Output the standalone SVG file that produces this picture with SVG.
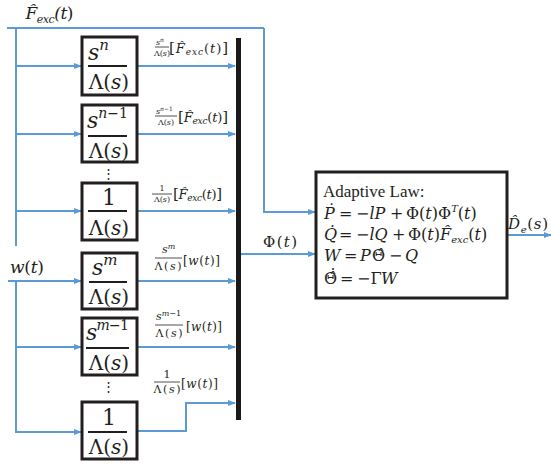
<svg xmlns="http://www.w3.org/2000/svg" width="551" height="465" viewBox="0 0 551 465">
<defs>
<marker id="ah" markerWidth="8" markerHeight="6" refX="7" refY="3" orient="auto" markerUnits="userSpaceOnUse">
<path d="M0,0 L8,3 L0,6 z" fill="#5B9BD5"/>
</marker>
<style>
.ln{fill:none;stroke:#5B9BD5;stroke-width:2}
.arr{fill:none;stroke:#5B9BD5;stroke-width:2;marker-end:url(#ah)}
.box{fill:#fff;stroke:#231f20;stroke-width:3}
.fb{stroke:#231f20;stroke-width:2}
.fs{stroke:#231f20;stroke-width:0.8}
text{fill:#231f20}
.m{font-family:"DejaVu Serif",serif;font-style:italic}
.r{font-family:"DejaVu Serif",serif;font-style:normal}
.t{font-family:"Liberation Serif",serif}
.num{font-size:22px}
.den{font-size:20px}
.law{font-size:16px}
</style>
</defs>
<g id="connectors">
<polyline class="ln" points="7,28 264,28"/>
<polyline class="arr" points="264,28 264,212 315,212"/>
<line class="ln" x1="16" y1="28" x2="16" y2="246"/>
<line class="arr" x1="16" y1="66" x2="81" y2="66"/>
<line class="arr" x1="16" y1="134" x2="81" y2="134"/>
<line class="arr" x1="16" y1="211" x2="81" y2="211"/>
<line class="arr" x1="8" y1="281" x2="81" y2="281"/>
<polyline class="arr" points="16,281 16,432 81,432"/>
<line class="arr" x1="16" y1="347" x2="81" y2="347"/>
<line class="arr" x1="137" y1="66" x2="235" y2="66"/>
<line class="arr" x1="137" y1="134" x2="235" y2="134"/>
<line class="arr" x1="137" y1="211" x2="235" y2="211"/>
<line class="arr" x1="137" y1="281" x2="235" y2="281"/>
<line class="arr" x1="137" y1="347" x2="235" y2="347"/>
<polyline class="arr" points="137,431 186,431 186,403 235,403"/>
<line class="arr" x1="241" y1="254" x2="315" y2="254"/>
<line class="arr" x1="507" y1="235" x2="551" y2="235"/>
</g>
<g id="bar"><rect x="236" y="38" width="5" height="382" fill="#1a1a1a"/></g>
<g id="labels">
<text class="m" x="25" y="19" font-size="17" textLength="48">F̂<tspan font-size="11" dy="4">exc</tspan><tspan dy="-4">(</tspan>t<tspan class="r">)</tspan></text>
<text class="m" x="10" y="273" font-size="17" textLength="34">w<tspan class="r">(</tspan>t<tspan class="r">)</tspan></text>
<text x="263" y="247" font-size="15" textLength="34"><tspan class="r">Φ(</tspan><tspan class="m">t</tspan><tspan class="r">)</tspan></text>
<text class="m" x="508" y="229" font-size="15" textLength="40">D̂<tspan font-size="10" dy="4">e</tspan><tspan class="r" dy="-4">(</tspan>s<tspan class="r">)</tspan></text>
</g>
<g id="box1">
<rect class="box" x="82" y="37" width="55" height="58"/>
<text class="m num" x="88" y="60">s<tspan font-size="15" dy="-10">n</tspan></text>
<line class="fb" x1="88" y1="66" x2="127" y2="66"/>
<text class="den" x="109" y="89" text-anchor="middle"><tspan class="r">Λ(</tspan><tspan class="m">s</tspan><tspan class="r">)</tspan></text>
</g>
<g id="box2">
<rect class="box" x="82" y="105" width="55" height="57"/>
<text class="m num" x="87" y="128">s<tspan font-size="14" dy="-10">n</tspan><tspan class="r" font-size="14">−1</tspan></text>
<line class="fb" x1="88" y1="136" x2="127" y2="136"/>
<text class="den" x="109" y="158" text-anchor="middle"><tspan class="r">Λ(</tspan><tspan class="m">s</tspan><tspan class="r">)</tspan></text>
</g>
<g id="dots1"><text class="r" x="108" y="178" font-size="13" text-anchor="middle">⋮</text></g>
<g id="box3">
<rect class="box" x="82" y="183" width="55" height="57"/>
<text class="r num" x="109" y="205" text-anchor="middle">1</text>
<line class="fb" x1="88" y1="211" x2="127" y2="211"/>
<text class="den" x="109" y="235" text-anchor="middle"><tspan class="r">Λ(</tspan><tspan class="m">s</tspan><tspan class="r">)</tspan></text>
</g>
<g id="box4">
<rect class="box" x="82" y="253" width="55" height="56"/>
<text class="m num" x="92" y="275">s<tspan font-size="15" dy="-10">m</tspan></text>
<line class="fb" x1="89" y1="282" x2="127" y2="282"/>
<text class="den" x="109" y="304" text-anchor="middle"><tspan class="r">Λ(</tspan><tspan class="m">s</tspan><tspan class="r">)</tspan></text>
</g>
<g id="box5">
<rect class="box" x="82" y="318" width="55" height="57"/>
<text class="m num" x="86" y="340" textLength="43">s<tspan font-size="14" dy="-10">m</tspan><tspan class="r" font-size="14">−1</tspan></text>
<line class="fb" x1="86" y1="348" x2="129" y2="348"/>
<text class="den" x="109" y="370" text-anchor="middle"><tspan class="r">Λ(</tspan><tspan class="m">s</tspan><tspan class="r">)</tspan></text>
</g>
<g id="dots2"><text class="r" x="108" y="391" font-size="13" text-anchor="middle">⋮</text></g>
<g id="box6">
<rect class="box" x="82" y="402" width="55" height="57"/>
<text class="r num" x="109" y="425" text-anchor="middle">1</text>
<line class="fb" x1="88" y1="432" x2="127" y2="432"/>
<text class="den" x="109" y="454" text-anchor="middle"><tspan class="r">Λ(</tspan><tspan class="m">s</tspan><tspan class="r">)</tspan></text>
</g>
<g id="arrowlabels">
<text class="m" x="156" y="45" font-size="8">s<tspan font-size="6" dy="-3">n</tspan></text>
<line class="fs" x1="155" y1="47" x2="169" y2="47"/>
<text x="162" y="56" font-size="8" text-anchor="middle"><tspan class="r">Λ(</tspan><tspan class="m">s</tspan><tspan class="r">)</tspan></text>
<text x="169" y="53" font-size="13" textLength="59"><tspan class="r" font-size="15">[</tspan><tspan class="m">F̂</tspan><tspan class="m" font-size="9" dy="2">exc</tspan><tspan class="r" dy="-2">(</tspan><tspan class="m">t</tspan><tspan class="r">)</tspan><tspan class="r" font-size="15">]</tspan></text>

<text class="m" x="156" y="114" font-size="8">s<tspan font-size="6" dy="-3">n</tspan><tspan class="r" font-size="6">−1</tspan></text>
<line class="fs" x1="155" y1="116" x2="177" y2="116"/>
<text x="166" y="125" font-size="8" text-anchor="middle"><tspan class="r">Λ(</tspan><tspan class="m">s</tspan><tspan class="r">)</tspan></text>
<text x="178" y="122" font-size="13" textLength="50"><tspan class="r" font-size="15">[</tspan><tspan class="m">F̂</tspan><tspan class="m" font-size="9" dy="2">exc</tspan><tspan class="r" dy="-2">(</tspan><tspan class="m">t</tspan><tspan class="r">)</tspan><tspan class="r" font-size="15">]</tspan></text>

<text class="r" x="162" y="191" font-size="8" text-anchor="middle">1</text>
<line class="fs" x1="152" y1="194" x2="172" y2="194"/>
<text x="162" y="202" font-size="8" text-anchor="middle"><tspan class="r">Λ(</tspan><tspan class="m">s</tspan><tspan class="r">)</tspan></text>
<text x="173" y="199" font-size="13" textLength="49"><tspan class="r" font-size="15">[</tspan><tspan class="m">F̂</tspan><tspan class="m" font-size="9" dy="2">exc</tspan><tspan class="r" dy="-2">(</tspan><tspan class="m">t</tspan><tspan class="r">)</tspan><tspan class="r" font-size="15">]</tspan></text>

<text class="m" x="162" y="253" font-size="11">s<tspan font-size="8" dy="-4">m</tspan></text>
<line class="fs" x1="155" y1="258" x2="182" y2="258"/>
<text x="168" y="270" font-size="11" text-anchor="middle" textLength="27"><tspan class="r">Λ(</tspan><tspan class="m">s</tspan><tspan class="r">)</tspan></text>
<text x="183" y="265" font-size="12" textLength="37"><tspan class="r">[</tspan><tspan class="m">w</tspan><tspan class="r">(</tspan><tspan class="m">t</tspan><tspan class="r">)]</tspan></text>

<text class="m" x="156" y="320" font-size="11">s<tspan font-size="8" dy="-4">m</tspan><tspan class="r" font-size="8">−1</tspan></text>
<line class="fs" x1="155" y1="325" x2="183" y2="325"/>
<text x="169" y="337" font-size="11" text-anchor="middle" textLength="27"><tspan class="r">Λ(</tspan><tspan class="m">s</tspan><tspan class="r">)</tspan></text>
<text x="186" y="331" font-size="12" textLength="36"><tspan class="r">[</tspan><tspan class="m">w</tspan><tspan class="r">(</tspan><tspan class="m">t</tspan><tspan class="r">)]</tspan></text>

<text class="r" x="167" y="378" font-size="11" text-anchor="middle">1</text>
<line class="fs" x1="154" y1="382" x2="180" y2="382"/>
<text x="167" y="393" font-size="11" text-anchor="middle" textLength="27"><tspan class="r">Λ(</tspan><tspan class="m">s</tspan><tspan class="r">)</tspan></text>
<text x="181" y="388" font-size="12" textLength="37"><tspan class="r">[</tspan><tspan class="m">w</tspan><tspan class="r">(</tspan><tspan class="m">t</tspan><tspan class="r">)]</tspan></text>
</g>
<g id="adaptive">
<rect class="box" x="316" y="172" width="191" height="126" stroke-width="2.5"/>
<text class="t" x="323" y="197" font-size="17">Adaptive Law:</text>
<text class="law" y="219"><tspan class="m" x="324">Ṗ</tspan><tspan class="r" x="339">=</tspan><tspan class="r" x="356">−</tspan><tspan class="m">lP</tspan><tspan class="r" x="390">+</tspan><tspan class="r" x="406">Φ(</tspan><tspan class="m">t</tspan><tspan class="r">)Φ</tspan><tspan class="m" font-size="10" dy="-7">T</tspan><tspan class="r" dy="7">(</tspan><tspan class="m">t</tspan><tspan class="r">)</tspan></text>
<text class="law" y="240"><tspan class="m" x="324">Q̇</tspan><tspan class="r" x="339">=</tspan><tspan class="r" x="356">−</tspan><tspan class="m">lQ</tspan><tspan class="r" x="392">+</tspan><tspan class="r" x="408">Φ(</tspan><tspan class="m">t</tspan><tspan class="r">)</tspan><tspan class="m">F̂</tspan><tspan class="m" font-size="10" dy="3">exc</tspan><tspan class="r" dy="-3">(</tspan><tspan class="m">t</tspan><tspan class="r">)</tspan></text>
<text class="law" y="261"><tspan class="m" x="324">W</tspan><tspan class="r" x="344">=</tspan><tspan class="m" x="360">P</tspan><tspan class="r" x="372">Θ̂</tspan><tspan class="r" x="389">−</tspan><tspan class="m" x="405">Q</tspan></text>
<text class="law" y="284"><tspan class="r" x="324">Θ̂̇</tspan><tspan class="r" x="340">=</tspan><tspan class="r" x="357">−Γ</tspan><tspan class="m" x="381">W</tspan></text>
</g>
</svg>
